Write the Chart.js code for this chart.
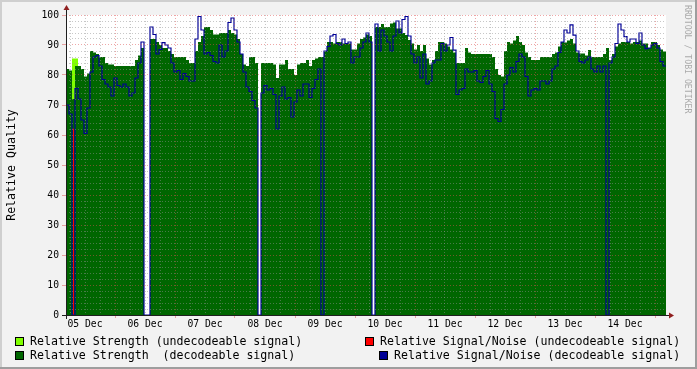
<!DOCTYPE html>
<html>
<head>
<meta charset="utf-8">
<title>Relative Quality</title>
<script src="https://cdn.jsdelivr.net/npm/chart.js@4.4.0/dist/chart.umd.min.js"></script>
<style>
  html, body { margin: 0; padding: 0; background: #f2f2f2; }
  #wrap { position: relative; width: 697px; height: 369px; overflow: hidden; }
  #chart { position: absolute; left: 0; top: 0; }
  .leg { position: absolute; font-family: "DejaVu Sans Mono", monospace; font-size: 11.6px; line-height: 14px; white-space: pre; color: #000; }
  .box { position: absolute; width: 7px; height: 7px; border: 1px solid #000; }
  #mark { position: absolute; left: 683px; top: 5px; writing-mode: vertical-rl; font-family: "DejaVu Sans Mono", monospace; font-size: 8.2px; line-height: 10px; color: #aaa; }
</style>
</head>
<body>
<div id="wrap">
  <canvas id="chart" width="697" height="369"></canvas>
  <div id="legend"></div>
  <div id="mark">RRDTOOL / TOBI OETIKER</div>
</div>
<script>
// time axis: hours since 05 Dec 00:00, one sample every 1.2 h
const startHour = 4.4;
const endHour = 244.4;
const stepHours = 1.2;

const dayLabels = ['05 Dec', '06 Dec', '07 Dec', '08 Dec', '09 Dec', '10 Dec', '11 Dec', '12 Dec', '13 Dec', '14 Dec'];

// Relative Strength (decodeable signal)
const strengthDecoded = [
  82, 81.5, 72, 83, 83, 82, 79.5, 80.5, 88, 87.5,
  87, 86, 86, 84, 83.5, 83.5, 83, 83, 83, 83,
  83, 83, 83, 85, 86.5, 89, 0, 0, 92, 92,
  91, 90, 89, 89, 88, 87, 86, 86, 86, 86,
  85, 84, 84, 88, 91, 93, 96, 96, 95, 93.5,
  93.5, 94, 94, 94, 95, 94, 93.5, 92, 87, 83.5,
  83, 86, 86, 84, 0, 84, 84, 84, 84, 83.5,
  79, 83.5, 83.5, 85, 82, 82, 80, 83.5, 84, 84,
  85, 83, 85, 85.5, 86, 86, 88, 91, 91, 90.5,
  91, 91, 90.5, 90.5, 90.5, 88.5, 88.5, 90.5, 92, 92.5,
  93.5, 93, 0, 96, 96, 97, 96, 96, 97.2, 97.5,
  95.5, 95.5, 94, 93.3, 91.7, 90.5, 88.5, 90, 88, 90,
  85.5, 83.5, 85, 88, 91, 91, 90.5, 89.5, 88.5, 87.5,
  84, 84, 84, 89, 87.5, 87, 87, 87, 87, 87,
  87, 87, 86, 82, 80, 79.5, 88, 91, 90.5, 91.5,
  93, 91, 90, 87.5, 86, 85, 85, 85, 86, 86,
  86, 86, 87, 87.5, 89.5, 91, 90.8, 91.5, 92, 90.5,
  87.5, 87.2, 87.2, 86.5, 88.3, 86, 86, 86, 86, 87,
  89, 85, 87, 89.5, 90.5, 91, 91, 91, 90.5, 91,
  91, 91.5, 90.5, 90.5, 89, 91, 91, 90, 88.5, 87.8,
  87.8
];

// Relative Signal/Noise (decodeable signal)
const snrDecoded = [
  70, 67, 0, 75.5, 72, 65, 60.5, 69, 81, 86,
  86.5, 83, 78.5, 77, 76, 73, 79, 76.5, 76, 77,
  76, 73, 74, 79, 84, 91, 0, 0, 96, 93.5,
  87, 88.5, 90.8, 90, 89, 84, 81, 81.5, 78.5, 80.5,
  79.5, 78, 78, 92, 99.5, 95, 87, 87.5, 86.5, 84.5,
  84, 90, 86, 88, 97.5, 99, 95, 91, 87, 81,
  76, 74.5, 71.5, 69, 0, 74, 76.5, 75, 75.5, 73.5,
  62, 73, 76, 72, 72.5, 66, 71, 75, 73, 77,
  77, 72.5, 75.5, 78.5, 82, 0, 88, 89.5, 93, 93.5,
  90.5, 90, 92, 90.5, 91, 84, 86, 86, 89, 91,
  94, 91, 0, 97, 88, 95, 93, 91, 88, 93,
  98, 94, 98.5, 99.5, 93, 87, 84, 86, 79, 87,
  77, 78, 84, 85, 85, 90.5, 88, 90, 92.5, 88.3,
  73.5, 75, 75.5, 82, 81, 81, 81.5, 78, 77.5, 79.5,
  81.5, 77, 74.5, 65.5, 64.5, 68.5, 77, 80, 82.5, 81,
  84.5, 87, 86, 79.5, 73, 75, 75.5, 75, 78, 78,
  77, 78, 82, 83, 87.5, 91, 95, 94, 96.7, 93.3,
  88, 84.5, 84, 85, 86, 82, 81, 83, 81, 83,
  0, 84, 86, 90.5, 97, 95, 92.8, 91, 92, 92,
  90.5, 94, 90, 88.8, 89, 90, 90.5, 89, 84.5, 83,
  83
];

// undecodeable samples, as [sample index, value]
const strengthUndecoded = [[2, 85.5], [3, 85.5], [4, 0]];
const snrUndecoded = [[2, 62], [3, 0]];

const yTicks = [];
for (let v = 0; v <= 100; v += 2) yTicks.push(v);
const xTicks = [];
for (let h = 6; h <= 240; h += 6) xTicks.push(h);

const GRID = 'rgba(143,143,143,0.5)';
const MGRID = 'rgba(222,79,79,0.5)';
const FONT = 'DejaVu Sans Mono';

const toPoints = vals => vals.map((v, i) => ({ x: startHour + i * stepHours, y: v }));
const pairPoints = pairs => pairs.map(p => ({ x: startHour + p[0] * stepHours, y: p[1] }));

const datasets = [
  {
    label: 'Relative Signal/Noise (decodeable signal)',
    data: toPoints(snrDecoded),
    borderColor: '#000096', backgroundColor: '#000096',
    borderWidth: 1.2, stepped: true, fill: false, order: 0
  },
  {
    label: 'Relative Signal/Noise (undecodeable signal)',
    data: pairPoints(snrUndecoded),
    borderColor: '#ff0000', backgroundColor: '#ff0000',
    borderWidth: 1, stepped: 'middle', fill: false, order: 1
  },
  {
    label: 'Relative Strength  (decodeable signal)',
    data: toPoints(strengthDecoded),
    borderColor: 'rgba(0,0,0,0)', backgroundColor: '#006600',
    borderWidth: 1, stepped: true, fill: 'origin', order: 2
  },
  {
    label: 'Relative Strength (undecodeable signal)',
    data: pairPoints(strengthUndecoded),
    borderColor: 'rgba(0,0,0,0)', backgroundColor: '#80ff00',
    borderWidth: 1, stepped: true, fill: 'origin', order: 3
  }
];

// background, 3d frame, axis lines and arrows like rrdtool
const rrdFrame = {
  id: 'rrdFrame',
  beforeDraw(chart) {
    const { ctx, width, height, chartArea: a } = chart;
    ctx.save();
    ctx.fillStyle = '#f2f2f2';
    ctx.fillRect(0, 0, width, height);
    ctx.fillStyle = '#cfcfcf';
    ctx.fillRect(0, 0, width, 2);
    ctx.fillRect(0, 0, 2, height);
    ctx.fillStyle = '#9e9e9e';
    ctx.fillRect(0, height - 2, width, 2);
    ctx.fillRect(width - 2, 0, 2, height);
    ctx.fillStyle = '#ffffff';
    ctx.fillRect(a.left, a.top, a.right - a.left, a.bottom - a.top);
    ctx.restore();
  },
  afterDraw(chart) {
    const { ctx, chartArea: a } = chart;
    const x0 = a.left + 0.5, y0 = a.bottom + 0.5;
    ctx.save();
    ctx.strokeStyle = '#1f1f1f';
    ctx.lineWidth = 1;
    ctx.beginPath();
    ctx.moveTo(x0, a.bottom + 4);
    ctx.lineTo(x0, a.top - 6);
    ctx.moveTo(a.left - 4, y0);
    ctx.lineTo(a.right + 6, y0);
    ctx.stroke();
    ctx.fillStyle = '#901f1f';
    ctx.beginPath();
    ctx.moveTo(x0 - 3, a.top - 5);
    ctx.lineTo(x0 + 3, a.top - 5);
    ctx.lineTo(x0, a.top - 10);
    ctx.closePath();
    ctx.fill();
    ctx.beginPath();
    ctx.moveTo(a.right + 3, y0 - 3);
    ctx.lineTo(a.right + 3, y0 + 3);
    ctx.lineTo(a.right + 8, y0);
    ctx.closePath();
    ctx.fill();
    ctx.restore();
  }
};

new Chart(document.getElementById('chart').getContext('2d'), {
  type: 'line',
  data: { datasets },
  plugins: [rrdFrame],
  options: {
    responsive: false,
    animation: false,
    events: [],
    layout: { padding: { top: 15, right: 31, bottom: 0, left: 0 } },
    elements: { point: { radius: 0 }, line: { tension: 0 } },
    plugins: { legend: { display: false }, tooltip: { enabled: false }, title: { display: false } },
    scales: {
      x: {
        type: 'linear',
        min: startHour,
        max: endHour,
        afterBuildTicks: scale => { scale.ticks = xTicks.map(v => ({ value: v })); },
        afterFit: scale => { scale.height = 54; },
        grid: {
          z: 1,
          lineWidth: 1,
          color: c => (c.tick && c.tick.value % 24 === 0) ? MGRID : GRID,
          tickLength: 3,
          tickColor: c => (c.tick && c.tick.value % 24 === 0) ? MGRID : 'rgba(0,0,0,0)'
        },
        border: { display: false, dash: [1, 2] },
        ticks: {
          autoSkip: false,
          maxRotation: 0,
          padding: 1,
          color: '#000',
          font: { family: FONT, size: 9.7 },
          callback: v => (v % 24 === 12) ? dayLabels[(v - 12) / 24] : ''
        }
      },
      y: {
        min: 0,
        max: 100,
        afterBuildTicks: scale => { scale.ticks = yTicks.map(v => ({ value: v })); },
        afterFit: scale => { scale.width = 66; },
        grid: {
          z: 1,
          lineWidth: 1,
          color: c => (c.tick && c.tick.value % 10 === 0) ? MGRID : GRID,
          tickLength: 4,
          tickColor: c => (c.tick && c.tick.value % 10 === 0) ? MGRID : 'rgba(0,0,0,0)'
        },
        border: { display: false, dash: [1, 2] },
        ticks: {
          autoSkip: false,
          padding: 3,
          color: '#000',
          font: { family: FONT, size: 9.7 },
          callback: v => (v % 10 === 0) ? String(v) : ''
        },
        title: {
          display: true,
          text: 'Relative Quality',
          color: '#000',
          font: { family: FONT, size: 11.6 },
          padding: { top: 5, bottom: 0 }
        }
      }
    }
  }
});

// html legend, two columns like the rrdtool graph
const legendSlots = [
  { ds: 3, box: [15, 337], text: [30, 334] },
  { ds: 1, box: [365, 337], text: [380, 334] },
  { ds: 2, box: [15, 351], text: [30, 348] },
  { ds: 0, box: [379, 351], text: [394, 348] }
];
const legendEl = document.getElementById('legend');
legendSlots.forEach(slot => {
  const ds = datasets[slot.ds];
  const box = document.createElement('div');
  box.className = 'box';
  box.style.left = slot.box[0] + 'px';
  box.style.top = slot.box[1] + 'px';
  box.style.background = ds.backgroundColor;
  legendEl.appendChild(box);
  const txt = document.createElement('div');
  txt.className = 'leg';
  txt.style.left = slot.text[0] + 'px';
  txt.style.top = slot.text[1] + 'px';
  txt.textContent = ds.label;
  legendEl.appendChild(txt);
});
</script>
</body>
</html>
